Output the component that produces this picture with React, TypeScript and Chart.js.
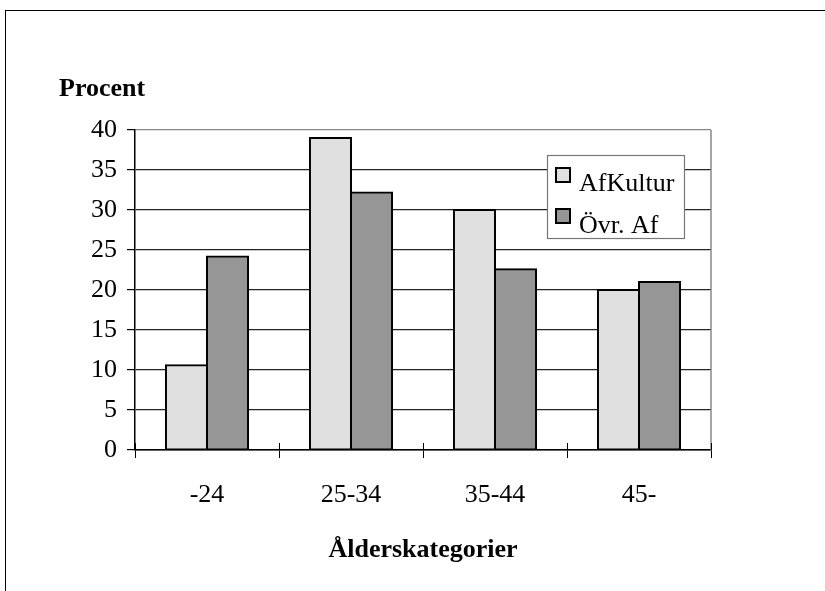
import React, { useEffect, useRef } from "react";
import { Chart, registerables } from "chart.js";

Chart.register(...registerables);

const categories = ["-24", "25-34", "35-44", "45-"];
const afKultur = [10.6, 39, 30, 20];
const ovrAf = [24.2, 32.2, 22.6, 21];
const seriesLabels = ["AfKultur", "Övr. Af"];
const seriesColors = ["#e0e0e0", "#969696"];
const yMin = 0;
const yMax = 40;
const yStep = 5;
const yAxisTitle = "Procent";
const xAxisTitle = "Ålderskategorier";

const FONT = "'Liberation Serif', 'Times New Roman', serif";

const decorPlugin = {
  id: "decor",
  afterDraw(chart: any) {
    const { ctx, chartArea: a, scales } = chart;
    ctx.save();
    // right border of plot
    ctx.strokeStyle = "#888";
    ctx.lineWidth = 1.5;
    ctx.beginPath();
    ctx.moveTo(a.right, a.top);
    ctx.lineTo(a.right, a.bottom);
    ctx.stroke();
    // x tick marks crossing the axis (upper part)
    const xs = scales.x;
    ctx.strokeStyle = "#000";
    ctx.lineWidth = 1;
    for (let i = 0; i <= categories.length; i++) {
      const px = Math.round(xs.getPixelForValue(i - 0.5)) + 0.5;
      ctx.beginPath();
      ctx.moveTo(px, a.bottom - 7);
      ctx.lineTo(px, a.bottom);
      ctx.stroke();
    }
    // y axis title (horizontal, above axis)
    ctx.font = `bold 26px ${FONT}`;
    ctx.fillStyle = "#000";
    ctx.textAlign = "left";
    ctx.textBaseline = "alphabetic";
    ctx.fillText(yAxisTitle, a.left - 76, a.top - 34);
    // legend box
    const lx = a.right - 164;
    const ly = a.top + 25;
    const lw = 137;
    const lh = 83;
    ctx.fillStyle = "#fff";
    ctx.fillRect(lx, ly, lw, lh);
    ctx.strokeStyle = "#777";
    ctx.lineWidth = 1.2;
    ctx.strokeRect(lx + 0.5, ly + 0.5, lw, lh);
    chart.data.datasets.forEach((ds: any, i: number) => {
      const my = ly + 13 + i * 41;
      ctx.fillStyle = ds.backgroundColor;
      ctx.fillRect(lx + 9, my, 14, 14);
      ctx.strokeStyle = "#000";
      ctx.lineWidth = 2;
      ctx.strokeRect(lx + 9, my, 14, 14);
      ctx.fillStyle = "#000";
      ctx.font = `26px ${FONT}`;
      ctx.textBaseline = "alphabetic";
      ctx.fillText(ds.label, lx + 32, ly + 36 + i * 42);
    });
    ctx.restore();
  },
};

export default function App() {
  const canvasRef = useRef<HTMLCanvasElement | null>(null);

  useEffect(() => {
    if (!canvasRef.current) return;
    const chart = new Chart(canvasRef.current, {
      type: "bar",
      data: {
        labels: categories,
        datasets: [
          {
            label: seriesLabels[0],
            data: afKultur,
            backgroundColor: seriesColors[0],
            borderColor: "#000",
            borderWidth: 2,
            borderSkipped: false,
            inflateAmount: 1,
          },
          {
            label: seriesLabels[1],
            data: ovrAf,
            backgroundColor: seriesColors[1],
            borderColor: "#000",
            borderWidth: 2,
            borderSkipped: false,
            inflateAmount: 1,
          },
        ],
      },
      options: {
        animation: false,
        responsive: false,
        devicePixelRatio: 1,
        datasets: {
          bar: { barPercentage: 1, categoryPercentage: 0.57 },
        },
        layout: { padding: { left: 0, right: 114, top: 130, bottom: 0 } },
        plugins: {
          legend: { display: false },
          title: { display: false },
          tooltip: { enabled: false },
        },
        scales: {
          x: {
            offset: true,
            grid: {
              display: true,
              drawOnChartArea: false,
              drawTicks: true,
              tickLength: 8,
              color: "#000",
              offset: true,
            },
            border: { display: true, color: "#000", width: 1.5 },
            ticks: {
              color: "#000",
              font: { family: FONT, size: 26 },
              padding: 22,
            },
            title: {
              display: true,
              text: xAxisTitle,
              color: "#000",
              font: { family: FONT, size: 26, weight: "bold" },
              padding: { top: 0, bottom: 25 },
            },
            afterFit(scale: any) {
              scale.height = 141;
            },
          },
          y: {
            min: yMin,
            max: yMax,
            grid: {
              color: (c: any) => (c.tick && c.tick.value === yMax ? "#888" : "#222"),
              tickColor: "#000",
              tickLength: 8,
              lineWidth: 1.2,
            },
            border: { display: true, color: "#000", width: 1.5 },
            ticks: {
              stepSize: yStep,
              color: "#000",
              font: { family: FONT, size: 26 },
              padding: 10,
            },
            afterFit(scale: any) {
              scale.width = 135;
            },
          },
        },
      },
      plugins: [decorPlugin],
    });
    return () => chart.destroy();
  }, []);

  return (
    <div style={{ position: "absolute", left: 0, top: 0, width: 825, height: 591, background: "#fff" }}>
      <div
        style={{
          position: "absolute",
          left: 5,
          top: 10,
          right: 0,
          bottom: 0,
          borderTop: "1px solid #000",
          borderLeft: "1px solid #000",
        }}
      />
      <canvas
        ref={canvasRef}
        width={825}
        height={591}
        style={{ position: "absolute", left: 0, top: 0, width: 825, height: 591 }}
      />
    </div>
  );
}
